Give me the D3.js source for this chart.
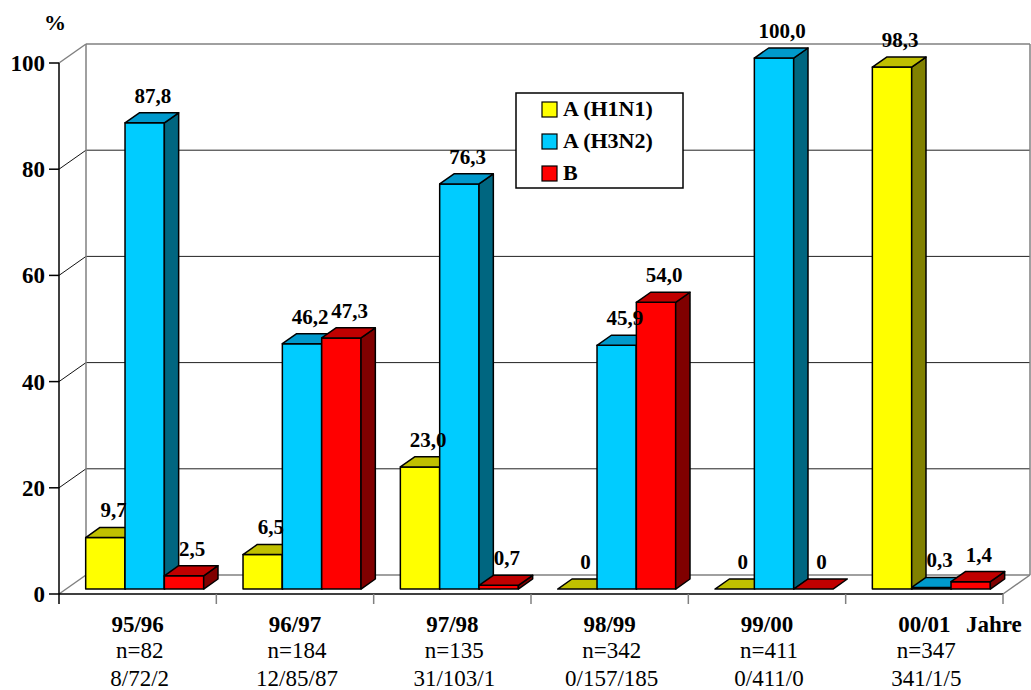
<!DOCTYPE html>
<html><head><meta charset="utf-8">
<script src="https://cdn.jsdelivr.net/npm/d3@7"></script>
<style>html,body{margin:0;padding:0;background:#fff;}svg{display:block;font-family:"Liberation Serif","Times New Roman",serif;}</style>
</head><body>
<svg id="c" width="1031" height="690"></svg>
<script>
const categories = ["95/96","96/97","97/98","98/99","99/00","00/01"];
const counts = ["n=82","n=184","n=135","n=342","n=411","n=347"];
const splits = ["8/72/2","12/85/87","31/103/1","0/157/185","0/411/0","341/1/5"];
const seriesNames = ["A (H1N1)","A (H3N2)","B"];
const h1n1 = [9.7, 6.5, 23.0, 0, 0, 98.3];
const h3n2 = [87.8, 46.2, 76.3, 45.9, 100.0, 0.3];
const bVals = [2.5, 47.3, 0.7, 54.0, 0, 1.4];
const yTicks = [0, 20, 40, 60, 80, 100];

const seriesValues = [h1n1, h3n2, bVals];
const colors = [
  {front:"#FFFF00", top:"#C0C000", side:"#808000"},
  {front:"#00CCFF", top:"#0099CC", side:"#006680"},
  {front:"#FF0000", top:"#C00000", side:"#800000"}
];
const fmt = v => v === 0 ? "0" : d3.format(".1f")(v).replace(".", ",");

const svg = d3.select("#c");
const left = 59, right = 1003, y0 = 594, yTop = 63;
const DX = 27, DY = -19;          // floor depth offset
const bF = 0.26, bB = 0.79;       // bar depth fractions

const x0 = d3.scaleBand().domain(categories).range([left, right]).padding(0);
const x1 = d3.scaleBand().domain(seriesNames).range([0, x0.bandwidth()]).paddingInner(0).paddingOuter(0.5);
const y = d3.scaleLinear().domain([0, 100]).range([y0, yTop]);

// back wall & floor
const g = svg.append("g");
const bx0 = left + DX, bx1 = right + DX;
yTicks.forEach(t => {
  const yy = y(t) + DY;
  const edge = (t === 0 || t === 100);
  g.append("line").attr("x1", bx0).attr("x2", bx1).attr("y1", yy).attr("y2", yy)
    .attr("stroke", edge ? "#808080" : "#222").attr("stroke-width", edge ? 1.5 : 1);
  g.append("line").attr("x1", left).attr("y1", y(t)).attr("x2", bx0).attr("y2", yy)
    .attr("stroke", edge ? "#808080" : "#111").attr("stroke-width", edge ? 1.5 : 1);
});
g.append("line").attr("x1", bx0).attr("x2", bx0).attr("y1", y(100)+DY).attr("y2", y(0)+DY).attr("stroke","#808080").attr("stroke-width",1.5);
g.append("line").attr("x1", bx1).attr("x2", bx1).attr("y1", y(100)+DY).attr("y2", y(0)+DY).attr("stroke","#808080").attr("stroke-width",1.5);
g.append("line").attr("x1", right).attr("y1", y0).attr("x2", bx1).attr("y2", y0+DY).attr("stroke","#808080").attr("stroke-width",1.5);
g.append("line").attr("x1", left).attr("x2", right).attr("y1", y0).attr("y2", y0).attr("stroke","#000").attr("stroke-width",1.5);

// category ticks
categories.forEach((c, i) => {
  const xx = x0(c) + x0.bandwidth();
  g.append("line").attr("x1", xx).attr("x2", xx).attr("y1", y0).attr("y2", y0 + 10).attr("stroke", "#808080").attr("stroke-width", 1.5);
});

// y axis
g.append("line").attr("x1", left).attr("x2", left).attr("y1", yTop).attr("y2", y0 + 10).attr("stroke","#000").attr("stroke-width",1.5);
yTicks.forEach(t => {
  g.append("line").attr("x1", left - 10).attr("x2", left).attr("y1", y(t)).attr("y2", y(t)).attr("stroke","#000").attr("stroke-width",1.5);
  g.append("text").attr("x", left - 14).attr("y", y(t) + 8).attr("text-anchor","end")
    .attr("font-size", 23).attr("font-weight","bold").text(t);
});
svg.append("text").attr("x", 55).attr("y", 30).attr("text-anchor","middle").attr("font-size",22).attr("font-weight","bold").text("%");

// legend
const lg = svg.append("g");
lg.append("rect").attr("x",516).attr("y",93).attr("width",167).attr("height",95).attr("fill","#fff").attr("stroke","#000").attr("stroke-width",1.5);
seriesNames.forEach((s, i) => {
  const by = 116 + i * 32;
  lg.append("rect").attr("x",542).attr("y",by-14).attr("width",15).attr("height",15).attr("fill",colors[i].front).attr("stroke","#000").attr("stroke-width",1.2);
  lg.append("text").attr("x",563).attr("y",by).attr("font-size",22).attr("font-weight","bold").text(s);
});

// bars
const fdx = DX * bF, fdy = DY * bF;
const ddx = DX * (bB - bF), ddy = DY * (bB - bF);
const bars = svg.append("g");
const labels = svg.append("g");
categories.forEach((c, ci) => {
  seriesNames.forEach((s, si) => {
    const v = seriesValues[si][ci];
    const xl = x0(c) + x1(s) + fdx, xr = xl + x1.bandwidth();
    const yb = y(0) + fdy, yt = y(v) + fdy;
    const col = colors[si];
    const pts = a => a.map(p => p.join(",")).join(" ");
    if (v > 0) {
      bars.append("polygon").attr("points", pts([[xl,yb],[xr,yb],[xr,yt],[xl,yt]]))
        .attr("fill", col.front).attr("stroke","#000").attr("stroke-width",1.5).attr("stroke-linejoin","round");
      bars.append("polygon").attr("points", pts([[xr,yb],[xr+ddx,yb+ddy],[xr+ddx,yt+ddy],[xr,yt]]))
        .attr("fill", col.side).attr("stroke","#000").attr("stroke-width",1.5).attr("stroke-linejoin","round");
    }
    bars.append("polygon").attr("points", pts([[xl,yt],[xr,yt],[xr+ddx,yt+ddy],[xl+ddx,yt+ddy]]))
      .attr("fill", col.top).attr("stroke","#000").attr("stroke-width",1.5).attr("stroke-linejoin","round");
    labels.append("text").attr("x", (xl + xr) / 2 + ddx / 2 + 1).attr("y", yt + ddy - 10)
      .attr("text-anchor","middle").attr("font-size",21).attr("font-weight","bold").text(fmt(v));
  });
});

// category labels
categories.forEach((c, i) => {
  const cx = x0(c) + x0.bandwidth() / 2;
  svg.append("text").attr("x", cx).attr("y", 632).attr("text-anchor","middle").attr("font-size",23).attr("font-weight","bold").text(c);
  svg.append("text").attr("x", cx + 2).attr("y", 658).attr("text-anchor","middle").attr("font-size",23).text(counts[i]);
  svg.append("text").attr("x", cx + 2).attr("y", 686).attr("text-anchor","middle").attr("font-size",23).text(splits[i]);
});
svg.append("text").attr("x", 966).attr("y", 632).attr("font-size",23).attr("font-weight","bold").text("Jahre");
</script>
</body></html>
